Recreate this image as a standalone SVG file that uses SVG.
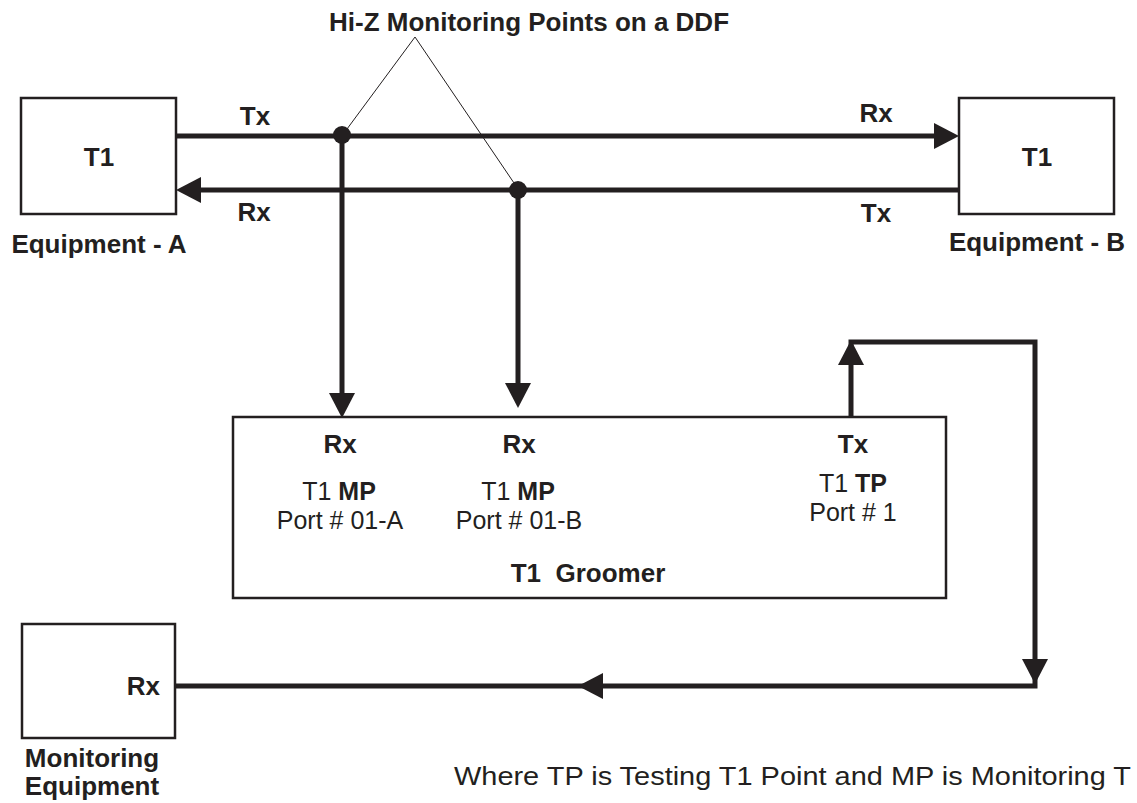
<svg xmlns="http://www.w3.org/2000/svg" xmlns:xlink="http://www.w3.org/1999/xlink" width="1137" height="803" viewBox="0 0 1137 803">
<style>
.box{fill:#fff;stroke:#231f20;stroke-width:2.5}
.wire{fill:none;stroke:#231f20;stroke-width:5}
.thin{fill:none;stroke:#231f20;stroke-width:1}
.head{fill:#231f20}
text{font-family:"Liberation Sans",Arial,sans-serif;font-size:26px;fill:#231f20;text-anchor:middle}
.b{font-weight:bold}
.pre{white-space:pre}
.port{font-size:25px}
</style>
<defs>
<path id="ah" d="M0,0 L-25,-13 L-25,13 Z"/>
</defs>
<rect width="1137" height="803" fill="#fff"/>

<g id="connectors">
<line class="wire" x1="176" y1="136" x2="940" y2="136"/>
<line class="wire" x1="195" y1="190" x2="959" y2="190"/>
<line class="wire" x1="342" y1="136" x2="342" y2="400"/>
<line class="wire" x1="518" y1="190" x2="518" y2="390"/>
<polyline class="wire" points="851,418 851,342 1035,342 1035,686 175,686" stroke-linejoin="miter"/>
<line class="thin" x1="415" y1="37" x2="347" y2="129"/>
<line class="thin" x1="415" y1="37" x2="514" y2="183"/>
<circle class="head" cx="342" cy="135" r="9"/>
<circle class="head" cx="518" cy="190" r="9"/>
<use href="#ah" class="head" transform="translate(959,136)"/>
<use href="#ah" class="head" transform="translate(176,190) rotate(180)"/>
<use href="#ah" class="head" transform="translate(342,418) rotate(90)"/>
<use href="#ah" class="head" transform="translate(518,408) rotate(90)"/>
<use href="#ah" class="head" transform="translate(851,340) rotate(-90)"/>
<use href="#ah" class="head" transform="translate(1035,684) rotate(90)"/>
<use href="#ah" class="head" transform="translate(578,686) rotate(180)"/>
<text class="b" x="255" y="125">Tx</text>
<text class="b" x="254" y="221">Rx</text>
<text class="b" x="876" y="122">Rx</text>
<text class="b" x="876" y="222">Tx</text>
</g>

<g id="hiz-label">
<text class="b" x="529" y="31">Hi-Z Monitoring Points on a DDF</text>
</g>

<g id="equipment-a">
<rect class="box" x="21" y="98" width="155" height="116"/>
<text class="b" x="99" y="166">T1</text>
<text class="b" x="99" y="253">Equipment - A</text>
</g>

<g id="equipment-b">
<rect class="box" x="959" y="98" width="155" height="116"/>
<text class="b" x="1037" y="166">T1</text>
<text class="b" x="1037" y="251">Equipment - B</text>
</g>

<g id="t1-groomer">
<rect class="box" x="233" y="417" width="713" height="181"/>
<text class="b" x="340" y="453">Rx</text>
<text class="b" x="519" y="453">Rx</text>
<text class="b" x="853" y="453">Tx</text>
<text class="port" x="339" y="500">T1 <tspan class="b">MP</tspan></text>
<text class="port" x="340" y="529">Port # 01-A</text>
<text class="port" x="518" y="500">T1 <tspan class="b">MP</tspan></text>
<text class="port" x="519" y="529">Port # 01-B</text>
<text class="port" x="853" y="492">T1 <tspan class="b">TP</tspan></text>
<text class="port" x="853" y="521">Port # 1</text>
<text class="b pre" x="588" y="582">T1  Groomer</text>
</g>

<g id="monitoring-equipment">
<rect class="box" x="22" y="624" width="153" height="114"/>
<text class="b" x="160" y="695" style="text-anchor:end">Rx</text>
<text class="b" x="92" y="767">Monitoring</text>
<text class="b" x="92" y="795">Equipment</text>
</g>

<g id="note">
<text x="454" y="785" style="text-anchor:start" textLength="677" lengthAdjust="spacingAndGlyphs">Where TP is Testing T1 Point and MP is Monitoring T</text>
</g>
</svg>
